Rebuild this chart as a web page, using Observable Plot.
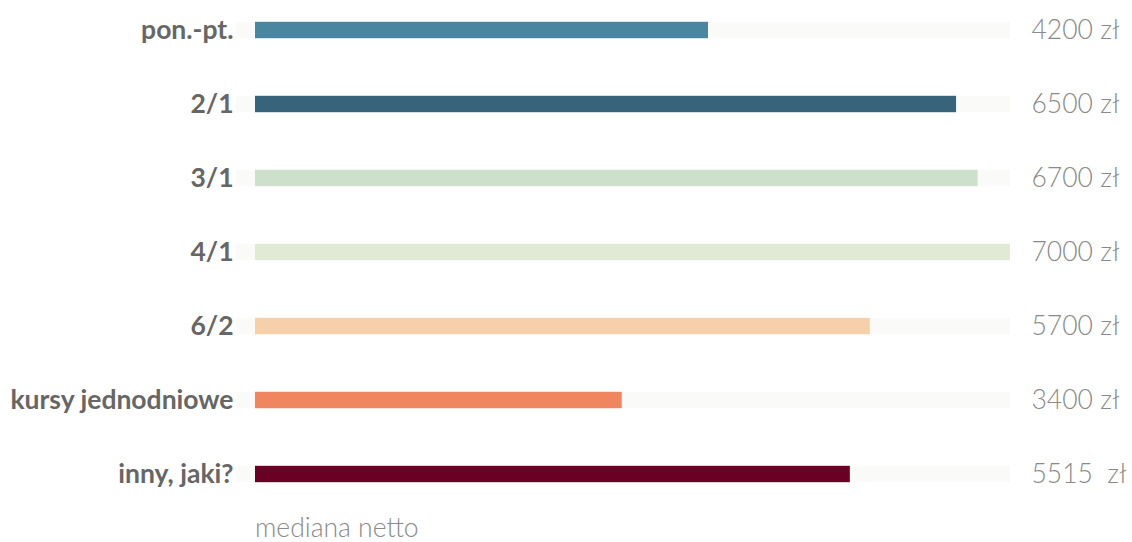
<!DOCTYPE html>
<html>
<head>
<meta charset="utf-8">
<script src="https://cdn.jsdelivr.net/npm/d3@7"></script>
<script src="https://cdn.jsdelivr.net/npm/@observablehq/plot@0.6"></script>
<style>
  html, body { margin: 0; padding: 0; background: #fff; overflow: hidden; }
  #chart { width: 1132px; }
  .caption { font-family: Lato, sans-serif; font-weight: 300; font-size: 26.5px; color: #8a8a8a; margin-left: 255px; margin-top: 12px; line-height: 30px; }
</style>
</head>
<body>
<div id="chart"></div>
<script>
const categories = ["pon.-pt.", "2/1", "3/1", "4/1", "6/2", "kursy jednodniowe", "inny, jaki?"];
const values = [4200, 6500, 6700, 7000, 5700, 3400, 5515];
const valueLabels = ["4200 zł", "6500 zł", "6700 zł", "7000 zł", "5700 zł", "3400 zł", "5515\u00a0 zł"];
const colors = ["#4b86a1", "#37647a", "#cde0cb", "#e1ead4", "#f6cfab", "#f0865f", "#6a0024"];
const maxValue = 7000;

const data = categories.map((c, i) => ({cat: c, value: values[i], label: valueLabels[i], color: colors[i], max: maxValue}));

const step = 74.67;
const chart = Plot.plot({
  width: 1132,
  height: 500,
  marginLeft: 255,
  marginRight: 122,
  marginTop: 0,
  marginBottom: 0,
  style: {fontFamily: "Lato, sans-serif", background: "#fff"},
  x: {domain: [0, maxValue], axis: null},
  y: {type: "band", domain: categories, range: [28 - step / 2, 28 + step * 6.5], padding: 0, axis: null},
  marks: [
    Plot.barX(data, {x1: 0, x2: "max", y: "cat", fill: "#fafaf8", insetTop: 28.8, insetBottom: 28.8, insetLeft: -19}),
    Plot.barX(data, {x1: 0, x2: "value", y: "cat", fill: "color", insetTop: 28.8, insetBottom: 28.8}),
    Plot.text(data, {x: 0, y: "cat", text: "cat", textAnchor: "end", dx: -22, fontSize: 26.5, fontWeight: 700, fill: "#666"}),
    Plot.text(data, {x: "max", y: "cat", text: "label", textAnchor: "start", dx: 21, fontSize: 26.5, fontWeight: 300, fill: "#8a8a8a"})
  ]
});
document.getElementById("chart").appendChild(chart);
const cap = document.createElement("div");
cap.className = "caption";
cap.textContent = "mediana netto";
document.getElementById("chart").appendChild(cap);
</script>
</body>
</html>
